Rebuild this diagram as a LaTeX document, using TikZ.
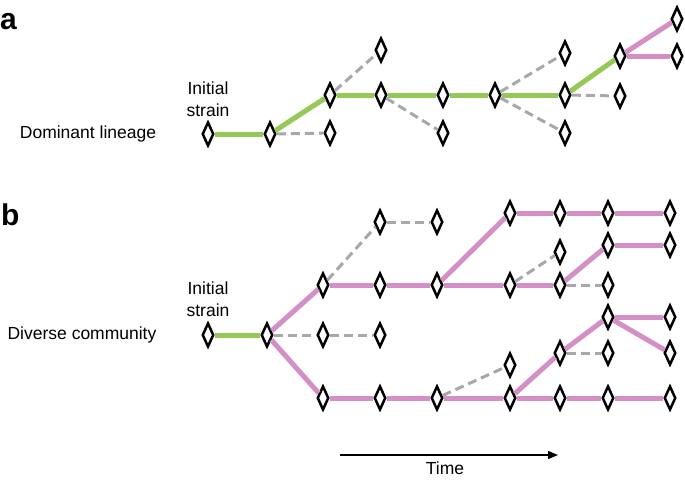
\documentclass[tikz,border=0pt]{standalone}
\usepackage{fontspec}
\setmainfont{Liberation Sans}
\usetikzlibrary{arrows.meta,positioning,shapes.geometric}
\definecolor{lineagegreen}{RGB}{149,201,86}
\definecolor{communitypink}{RGB}{212,143,198}
\definecolor{lostgray}{RGB}{168,168,172}

\begin{document}
\begin{tikzpicture}[x=1pt, y=-1pt,
    every node/.style={font=\fontsize{17.5}{21.5}\selectfont},
    strain/.style={diamond, draw=black, line width=2.5pt, fill=white, inner sep=0pt, minimum width=11.5pt, minimum height=24pt},
    panel/.style={font=\fontsize{30}{30}\selectfont\bfseries, anchor=base west, inner sep=0pt},
    win/.style={lineagegreen, line width=5pt},
    branch/.style={communitypink, line width=5pt},
    lost/.style={lostgray, line width=3pt, dash pattern=on 9pt off 5pt},
]
\useasboundingbox (0,0) rectangle (685,480);

% panel a
\node[panel] (lbla) at (0,29) {a};
\node (dominant) at (88,134) {Dominant lineage};
\node[align=center, inner sep=0pt] (inita) at (208,99) {Initial\\strain};
\foreach \n/\x/\y in {a0/208/134, a1/270/134, a2/330/95, a3/330/133, a4/381/50, a5/381/95,
    a6/443/95, a7/443/133, a8/495/95, a9/565/53, a10/565/95, a11/565/133,
    a12/620/56, a13/620/96, a14/677/19, a15/677/56}
  \node[strain] (\n) at (\x,\y) {};
\foreach \s/\t in {a0/a1, a1/a2, a2/a5, a5/a6, a6/a8, a8/a10, a10/a12}
  \draw[win] (\s) -- (\t);
\foreach \s/\t in {a12/a14, a12/a15}
  \draw[branch] (\s) -- (\t);
\foreach \s/\t in {a1/a3, a2/a4, a5/a7, a8/a9, a8/a11, a10/a13}
  \draw[lost] (\s) -- (\t);

% panel b
\node[panel] (lblb) at (1,225) {b};
\node (diverse) at (82,335) {Diverse community};
\node[align=center, inner sep=0pt] (initb) at (208,299) {Initial\\strain};
\foreach \n/\x/\y in {b0/208/335, b1/267/335, b2/323/285, b3/323/335, b4/323/398,
    b5/380/222, b6/437/222, b7/380/285, b8/437/285, b9/380/335,
    b10/510/213, b11/560/213, b12/608/213, b13/670/213,
    b14/510/285, b15/560/252, b16/560/285, b17/608/245, b18/670/245, b19/608/285,
    b20/380/398, b21/437/398, b22/510/365, b23/510/398, b24/560/353, b25/560/398,
    b26/608/317, b27/608/353, b28/608/398, b29/670/317, b30/670/353, b31/670/398}
  \node[strain] (\n) at (\x,\y) {};
\draw[win] (b0) -- (b1);
\foreach \s/\t in {b1/b2, b1/b4, b2/b7, b7/b8, b8/b14, b14/b16, b8/b10, b10/b11, b11/b12, b12/b13,
    b16/b17, b17/b18, b4/b20, b20/b21, b21/b23, b23/b25, b25/b28, b28/b31,
    b23/b24, b24/b26, b26/b29, b26/b30}
  \draw[branch] (\s) -- (\t);
\foreach \s/\t in {b1/b3, b3/b9, b2/b5, b5/b6, b14/b15, b16/b19, b21/b22, b24/b27}
  \draw[lost] (\s) -- (\t);

% time axis
\coordinate (tstart) at (340,455);
\coordinate (tend) at (558,455);
\draw[-{Triangle[length=10pt, width=8pt]}, line width=1.2pt] (tstart) -- (tend);
\node (time) at (445,468) {Time};
\end{tikzpicture}
\end{document}
